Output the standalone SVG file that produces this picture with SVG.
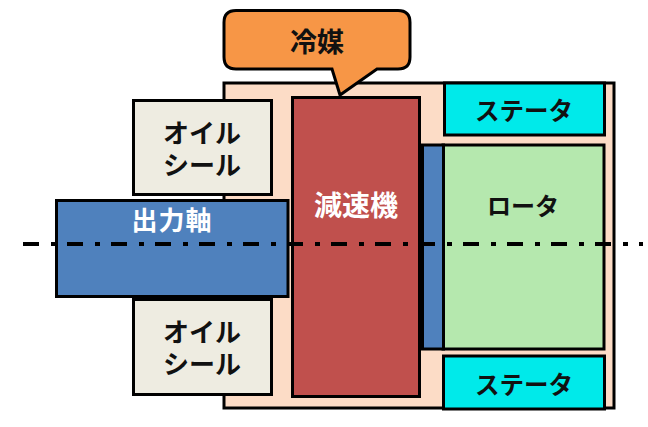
<svg xmlns="http://www.w3.org/2000/svg" width="648" height="427" viewBox="0 0 648 427">
<style>
.b{stroke:#000;stroke-width:3}
.t{font-family:"Noto Sans CJK JP","Noto Sans",sans-serif;font-size:24px;font-weight:700;text-anchor:middle;fill:#111}
.s{font-size:26px}
.w{fill:#fff}
</style>
<rect width="648" height="427" fill="#fff"/>
<g id="housing"><rect class="b" x="224" y="83" width="390" height="325" fill="#fcdcc6"/></g>
<g id="stator-top"><rect class="b" x="444.500" y="83" width="160" height="52" fill="#00eaea"/><text class="t" x="524" y="120" style="font-size:24.500px">ステータ</text></g>
<g id="rotor"><rect class="b" x="443" y="145" width="161" height="204" fill="#b5e8ae"/><text class="t" x="523" y="215">ロータ</text></g>
<g id="plate"><rect class="b" x="422.500" y="145" width="21" height="204" fill="#4f81bd"/></g>
<g id="stator-bottom"><rect class="b" x="443.500" y="356" width="161" height="53" fill="#00eaea"/><text class="t" x="524" y="394" style="font-size:24.500px">ステータ</text></g>
<g id="reducer"><rect class="b" x="292.500" y="97.500" width="127" height="299" fill="#c0504d"/><text class="t w" x="356" y="216" style="font-size:28px">減速機</text></g>
<g id="seal-top"><rect class="b" x="133.500" y="100.500" width="138" height="94" fill="#eeece1"/><text class="t s" x="202" y="143">オイル<tspan x="202" y="175">シール</tspan></text></g>
<g id="seal-bottom"><rect class="b" x="133.500" y="299.500" width="138" height="95" fill="#eeece1"/><text class="t s" x="202" y="342">オイル<tspan x="202" y="374">シール</tspan></text></g>
<g id="shaft"><rect class="b" x="56.500" y="200.500" width="231.500" height="96" fill="#4f81bd"/><text class="t s w" x="172" y="230" letter-spacing="1">出力軸</text></g>
<g id="coolant"><path class="b" d="M236 10.500H398Q410 10.500 410 22.500V57Q410 69 398 69H377L340 95L332 69H236Q224 69 224 57V22.500Q224 10.500 236 10.500Z" fill="#f79646"/><text class="t" x="317" y="52" style="font-size:27px">冷媒</text></g>
<g id="connectors"><path d="M23 244H643" fill="none" stroke="#000" stroke-width="4" stroke-dasharray="16 12 5 11"/></g>
</svg>
